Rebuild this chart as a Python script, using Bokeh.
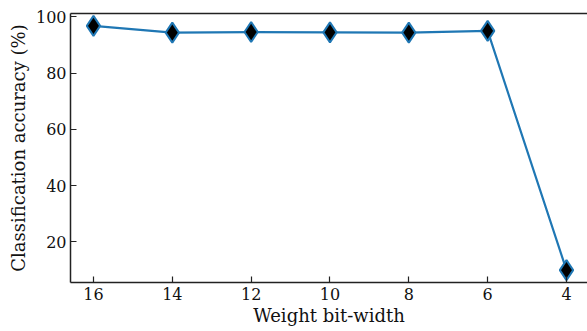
from bokeh.plotting import figure
from bokeh.models import Range1d, FixedTicker, LinearAxis
from bokeh.embed import file_html
from bokeh.resources import INLINE

bit_width = [16, 14, 12, 10, 8, 6, 4]
accuracy = [96.8, 94.4, 94.6, 94.5, 94.4, 95.0, 9.9]
x_ticks = [16, 14, 12, 10, 8, 6, 4]
y_ticks = [20, 40, 60, 80, 100]

FONT = "DejaVu Serif"

p = figure(width=587, height=331, output_backend="svg", toolbar_location=None,
           x_range=Range1d(16.583, 3.467), y_range=Range1d(5.5, 101.2),
           min_border_left=70, min_border_right=0, min_border_top=13, min_border_bottom=49)
p.outline_line_color = None
p.grid.visible = False
p.background_fill_color = "white"
p.border_fill_color = "white"

p.line(bit_width, accuracy, line_color="#1f77b4", line_width=2.2)
p.scatter(bit_width, accuracy, marker="diamond", size=20, fill_color="black",
          line_color="#1f77b4", line_width=2)

p.xaxis.ticker = FixedTicker(ticks=x_ticks)
p.yaxis.ticker = FixedTicker(ticks=y_ticks)
p.xaxis.axis_label = "Weight bit-width"
p.yaxis.axis_label = "Classification accuracy (%)"

p.xaxis.major_label_text_font = FONT
p.yaxis.major_label_text_font = FONT
p.xaxis.axis_label_text_font = FONT
p.yaxis.axis_label_text_font = FONT
p.xaxis.major_label_text_font_size = "16px"
p.yaxis.major_label_text_font_size = "16px"
p.xaxis.axis_label_text_font_size = "18px"
p.yaxis.axis_label_text_font_size = "18px"
p.xaxis.axis_label_text_font_style = "normal"
p.yaxis.axis_label_text_font_style = "normal"
p.xaxis.major_label_text_color = "#111111"
p.yaxis.major_label_text_color = "#111111"
p.xaxis.axis_label_text_color = "#111111"
p.yaxis.axis_label_text_color = "#111111"

p.axis.axis_line_width = 1.5
p.axis.axis_line_color = "#222222"
p.axis.major_tick_line_color = "#222222"
p.axis.major_tick_line_width = 1.2
p.axis.major_tick_in = 6
p.axis.major_tick_out = 0
p.axis.minor_tick_line_color = None

p.xaxis.major_label_standoff = 5
p.xaxis.axis_label_standoff = 2
p.yaxis.major_label_standoff = 4
p.yaxis.axis_label_standoff = 4

top = LinearAxis(ticker=FixedTicker(ticks=[]), axis_line_width=1.5,
                 axis_line_color="#222222", major_tick_line_color=None,
                 major_tick_in=0, major_tick_out=0, minor_tick_line_color=None)
p.add_layout(top, "above")

open("out.html", "w").write(file_html(p, INLINE))
